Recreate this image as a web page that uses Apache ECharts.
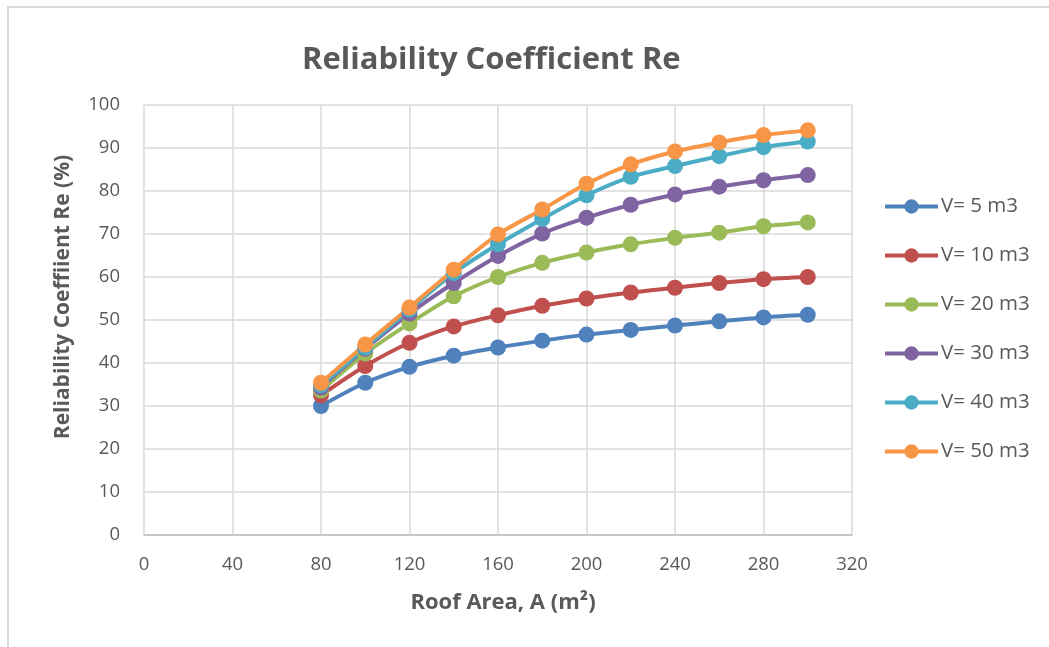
<!DOCTYPE html>
<html>
<head>
<meta charset="utf-8">
<script src="https://cdn.jsdelivr.net/npm/echarts@6/dist/echarts.min.js"></script>
<style>
html,body{margin:0;padding:0;background:#fff;}
#chart{width:1049px;height:647px;}
</style>
</head>
<body>
<div id="chart"></div>
<script>
const roofArea = [80, 100, 120, 140, 160, 180, 200, 220, 240, 260, 280, 300];
const seriesNames = ['V= 5 m3', 'V= 10 m3', 'V= 20 m3', 'V= 30 m3', 'V= 40 m3', 'V= 50 m3'];
const v5  = [30.0, 35.4, 39.1, 41.7, 43.6, 45.2, 46.6, 47.7, 48.7, 49.7, 50.6, 51.2];
const v10 = [32.5, 39.3, 44.7, 48.5, 51.1, 53.3, 55.0, 56.4, 57.5, 58.6, 59.5, 60.0];
const v20 = [33.6, 42.2, 49.2, 55.5, 60.0, 63.3, 65.7, 67.6, 69.1, 70.3, 71.8, 72.7];
const v30 = [34.3, 43.3, 51.5, 58.6, 64.9, 70.1, 73.8, 76.8, 79.2, 81.0, 82.5, 83.7];
const v40 = [34.8, 43.6, 52.4, 60.9, 67.6, 73.5, 79.0, 83.3, 85.8, 88.1, 90.2, 91.5];
const v50 = [35.4, 44.3, 52.9, 61.7, 69.9, 75.7, 81.7, 86.2, 89.2, 91.3, 93.0, 94.1];
const colors = ['#4F81BD', '#C0504D', '#9BBB59', '#8064A2', '#4BACC6', '#F79646'];
const titleText = 'Reliability Coefficient Re';
const xName = 'Roof Area, A (m²)';
const yName = 'Reliability Coeffiient Re (%)';

const allValues = [v5, v10, v20, v30, v40, v50];
const textColor = '#595959';
const font = '"Open Sans", "Liberation Sans", sans-serif';

const chart = echarts.init(document.getElementById('chart'), null, {renderer: 'canvas'});
chart.setOption({
  backgroundColor: '#ffffff',
  animation: false,
  color: colors,
  graphic: [{
    type: 'rect',
    shape: {x: 8, y: 7, width: 1200, height: 800},
    style: {fill: 'none', stroke: '#D9D9D9', lineWidth: 2},
    silent: true, z: -10
  }],
  title: {
    text: titleText,
    left: 297, top: 40,
    textStyle: {fontFamily: font, fontSize: 31, fontWeight: 'bold', color: textColor}
  },
  legend: {
    orient: 'vertical',
    left: 878, top: 191,
    itemWidth: 53, itemHeight: 18, itemGap: 28,
    lineStyle: {width: 4},
    textStyle: {fontFamily: font, fontSize: 20.5, color: textColor, lineHeight: 18, padding: [0, 0, 0, -2]},
    data: seriesNames
  },
  grid: {left: 144, right: 197, top: 105, bottom: 112, containLabel: false},
  xAxis: {
    type: 'value', min: 0, max: 320, interval: 40,
    name: xName, nameLocation: 'middle', nameGap: 57,
    nameTextStyle: {fontFamily: font, fontSize: 22, fontWeight: 'bold', color: textColor, padding: [0, 0, 0, 10]},
    axisLine: {show: true, lineStyle: {color: '#BFBFBF', width: 1.5}},
    axisTick: {show: false},
    axisLabel: {fontFamily: font, fontSize: 18.5, color: textColor, margin: 20},
    splitLine: {show: true, lineStyle: {color: '#D9D9D9', width: 1.5}}
  },
  yAxis: {
    type: 'value', min: 0, max: 100, interval: 10,
    name: yName, nameLocation: 'middle', nameGap: 70, nameRotate: 90,
    nameTextStyle: {fontFamily: font, fontSize: 21, fontWeight: 'bold', color: textColor, padding: [0, 0, 0, 46]},
    axisLine: {show: false},
    axisTick: {show: false},
    axisLabel: {fontFamily: font, fontSize: 18.5, color: textColor, margin: 24},
    splitLine: {show: true, lineStyle: {color: '#D9D9D9', width: 1.5}}
  },
  series: seriesNames.map((name, i) => ({
    name: name,
    type: 'line',
    smooth: 0.3,
    symbol: 'circle',
    symbolSize: 16,
    lineStyle: {width: 4, color: colors[i]},
    itemStyle: {color: colors[i]},
    data: roofArea.map((x, j) => [x, allValues[i][j]])
  }))
});
</script>
</body>
</html>
